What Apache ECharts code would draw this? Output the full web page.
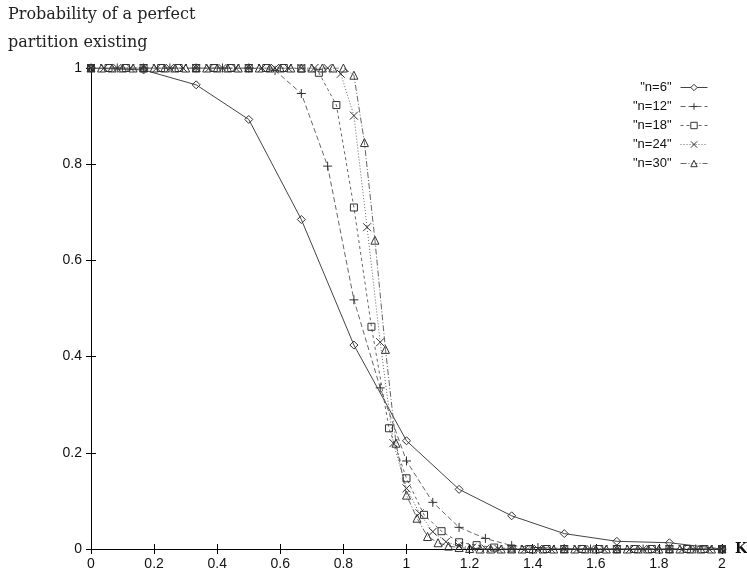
<!DOCTYPE html>
<html>
<head>
<meta charset="utf-8">
<script src="https://cdn.jsdelivr.net/npm/echarts@6/dist/echarts.min.js"></script>
<style>html,body{margin:0;padding:0;background:#fff}#c{width:747px;height:571px}</style>
</head>
<body>
<div id="c"></div>
<script>
// Probability of a perfect partition existing vs K, for several n (K = i/n)
var xTicks = [0, 0.2, 0.4, 0.6, 0.8, 1, 1.2, 1.4, 1.6, 1.8, 2];
var yTicks = [0, 0.2, 0.4, 0.6, 0.8, 1];
var seriesNames = ['"n=6"', '"n=12"', '"n=18"', '"n=24"', '"n=30"'];
var seriesN = [6, 12, 18, 24, 30];

var n6 = [1, 0.996, 0.965, 0.893, 0.685, 0.424, 0.225, 0.124, 0.069, 0.032, 0.016, 0.013, 0];

var n12 = [1, 1, 1, 1, 1, 1, 1, 0.995, 0.947, 0.796, 0.518, 0.335, 0.183, 0.097, 0.045, 0.022,
           0.007, 0.003, 0.001, 0, 0, 0, 0, 0, 0];

var n18 = [1, 1, 1, 1, 1, 1, 1, 1, 1, 1, 1, 1, 0.999, 0.99, 0.923, 0.71, 0.462, 0.251, 0.147,
           0.071, 0.037, 0.014, 0.008, 0.003, 0.001, 0, 0, 0, 0, 0, 0, 0, 0, 0, 0, 0, 0];

var n24 = [1, 1, 1, 1, 1, 1, 1, 1, 1, 1, 1, 1, 1, 1, 1, 1, 1, 1, 1, 0.988, 0.901, 0.669, 0.43,
           0.22, 0.126, 0.074, 0.036, 0.015, 0.006, 0.003, 0.001, 0, 0, 0, 0, 0, 0, 0, 0, 0,
           0, 0, 0, 0, 0, 0, 0, 0, 0];

var n30 = [1, 1, 1, 1, 1, 1, 1, 1, 1, 1, 1, 1, 1, 1, 1, 1, 1, 1, 1, 1, 1, 1, 1, 1, 1, 0.985,
           0.845, 0.642, 0.415, 0.22, 0.112, 0.064, 0.026, 0.013, 0.006, 0.003, 0.001, 0, 0, 0,
           0, 0, 0, 0, 0, 0, 0, 0, 0, 0, 0, 0, 0, 0, 0, 0, 0, 0, 0, 0, 0];

var seriesValues = [n6, n12, n18, n24, n30];

var symbols = [
  'diamond',
  'path://M5,0L5,10M0,5L10,5',
  'rect',
  'path://M0,0L10,10M10,0L0,10',
  'triangle'
];
var symbolSizes = [8, 9, 7, 8, 8];
var dashes = ['solid', [5, 3], [3, 3], [1, 2], [6, 2, 1, 2]];

var series = seriesValues.map(function (vals, s) {
  var n = seriesN[s];
  return {
    name: seriesNames[s],
    type: 'line',
    data: vals.map(function (v, i) { return [i / n, v]; }),
    symbol: symbols[s],
    symbolSize: symbolSizes[s],
    showAllSymbol: true,
    animation: false,
    lineStyle: { color: s === 0 ? '#444' : '#666', width: 1, type: dashes[s] },
    itemStyle: { color: 'rgba(255,255,255,0)', borderColor: '#333', borderWidth: 1 },
    emphasis: { disabled: true }
  };
});

var chart = echarts.init(document.getElementById('c'), null, { renderer: 'canvas' });
chart.setOption({
  animation: false,
  backgroundColor: '#fff',
  title: {
    text: 'Probability of a perfect\npartition existing',
    left: 8, top: 1, padding: 0,
    textStyle: { fontFamily: 'DejaVu Serif', fontSize: 16, fontWeight: 'normal', color: '#222', lineHeight: 28 }
  },
  legend: {
    orient: 'vertical',
    right: 39, top: 81, padding: 0,
    align: 'right',
    itemWidth: 27, itemHeight: 8, itemGap: 6,
    data: seriesNames,
    itemStyle: { color: '#fff', borderColor: '#333', borderWidth: 1 },
    lineStyle: { width: 1 },
    textStyle: { fontFamily: 'Liberation Sans', fontSize: 13, color: '#111', width: 40, align: 'right', padding: [0, 4, 0, 0] }
  },
  grid: { left: 91, right: 25, top: 68, bottom: 22, show: false, containLabel: false, outerBoundsMode: 'none' },
  xAxis: [{
    type: 'value', min: xTicks[0], max: xTicks[xTicks.length - 1], interval: 0.2,
    name: 'K', nameLocation: 'end', nameGap: 13,
    nameTextStyle: { fontFamily: 'DejaVu Serif', fontWeight: 'bold', fontSize: 14, color: '#111', verticalAlign: 'middle' },
    axisLine: { lineStyle: { color: '#000', width: 1 } },
    axisTick: { inside: true, length: 5, lineStyle: { color: '#000' } },
    axisLabel: { fontFamily: 'Liberation Sans', fontSize: 14, color: '#111', margin: 8 },
    splitLine: { show: false }
  }, {
    type: 'value', position: 'top', min: xTicks[0], max: xTicks[xTicks.length - 1], interval: 0.2,
    axisLine: { show: true, lineStyle: { color: '#000', width: 1 } },
    axisTick: { inside: true, length: 5, lineStyle: { color: '#000' } },
    axisLabel: { show: false },
    splitLine: { show: false }
  }],
  yAxis: [{
    type: 'value', min: yTicks[0], max: yTicks[yTicks.length - 1], interval: 0.2,
    axisLine: { show: true, lineStyle: { color: '#000', width: 1 } },
    axisTick: { show: true, inside: true, length: 5, lineStyle: { color: '#000' } },
    axisLabel: { fontFamily: 'Liberation Sans', fontSize: 14, color: '#111', margin: 9 },
    splitLine: { show: false }
  }, {
    type: 'value', position: 'right', min: yTicks[0], max: yTicks[yTicks.length - 1], interval: 0.2,
    axisLine: { show: true, lineStyle: { color: '#000', width: 1 } },
    axisTick: { show: true, inside: true, length: 5, lineStyle: { color: '#000' } },
    axisLabel: { show: false },
    splitLine: { show: false }
  }],
  series: series
});
</script>
</body>
</html>
